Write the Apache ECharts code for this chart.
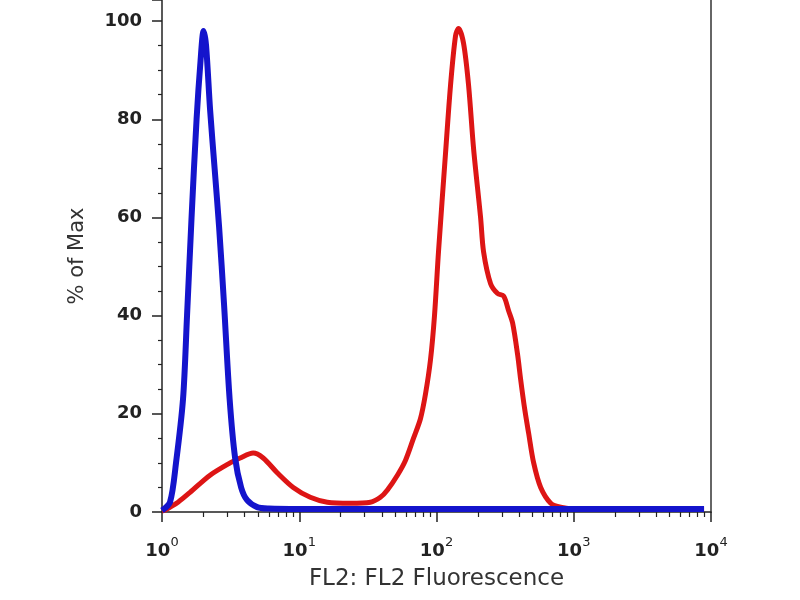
<!DOCTYPE html>
<html>
<head>
<meta charset="utf-8">
<script src="https://cdn.jsdelivr.net/npm/echarts@6/dist/echarts.min.js"></script>
<style>
html,body{margin:0;padding:0;background:#fff;}
#chart{width:800px;height:600px;}
</style>
</head>
<body>
<div id="chart"></div>
<script>
// Blue histogram (control)
const blueX = [1.0, 1.144, 1.265, 1.423, 1.522, 1.642, 1.786, 1.910, 2.009, 2.095, 2.240, 2.417, 2.607, 2.836, 3.110, 3.410, 3.772, 4.173, 4.936, 6.0, 10, 20, 50, 100, 300, 1000, 3000, 8900];
const blueY = [0.3, 2, 10, 23, 40, 60, 80, 92, 98, 95, 82, 70, 58, 42, 23, 11, 5, 2.4, 1, 0.7, 0.6, 0.6, 0.6, 0.6, 0.6, 0.6, 0.6, 0.6];
// Red histogram (stained)
const redX = [1.0, 1.052, 1.309, 1.601, 2.240, 3.135, 3.709, 4.616, 5.461, 6.909, 9.042, 12.03, 16.01, 23.57, 32.98, 39.01, 43.89, 51.91, 59.38, 67.94, 76.4, 83.1, 90.41, 96.7, 103.4, 116.3, 126.6, 137.6, 144.7, 157.4, 171.2, 186.3, 209.5, 220.3, 247.9, 278.8, 308.4, 335.3, 358.6, 390.1, 410.3, 438.9, 469.4, 510.5, 574.3, 679.4, 803.6, 1125, 3000, 8900];
const redY = [0.2, 0.4, 2, 4, 7.5, 10, 11, 12, 11, 8, 5, 3, 2, 1.8, 2, 3, 4.5, 7.5, 10.5, 15, 19, 24, 31, 40, 53, 73, 87, 97, 98.5, 95.5, 87, 74, 60, 53, 46.5, 44.5, 44, 41, 38.5, 32, 27, 21, 16, 10, 5, 1.8, 1, 0.5, 0.5, 0.5];
// Axes
const xMajorTicks = [1, 10, 100, 1000, 10000];
const xMinorTicks = [2,3,4,5,6,7,8,9,20,30,40,50,60,70,80,90,200,300,400,500,600,700,800,900,2000,3000,4000,5000,6000,7000,8000,9000];
const yTicks = [0, 20, 40, 60, 80, 100];
const xTitle = 'FL2: FL2 Fluorescence';
const yTitle = '% of Max';

const zip = (xs, ys) => xs.map((x, i) => [x, ys[i]]);

const chart = echarts.init(document.getElementById('chart'), null, {renderer: 'canvas'});
const axisColor = '#222';
chart.setOption({
  backgroundColor: '#ffffff',
  animation: false,
  grid: {left: 162, right: 89, top: 0, bottom: 88},
  xAxis: [{
    type: 'log', logBase: 10, min: 1, max: 10000,
    name: xTitle, nameLocation: 'middle', nameGap: 56,
    nameTextStyle: {fontFamily: 'DejaVu Sans', fontSize: 23, color: '#333'},
    axisLine: {show: true, lineStyle: {color: axisColor, width: 1.5}},
    axisTick: {show: true, inside: false, length: 10, customValues: xMajorTicks, lineStyle: {color: axisColor, width: 1.5}},
    axisLabel: {
      customValues: xMajorTicks,
      margin: 24,
      formatter: v => '{b|10}{s|' + Math.round(Math.log10(v)) + '}',
      rich: {
        b: {fontFamily: 'DejaVu Sans', fontSize: 18, fontWeight: 'bold', color: '#222', lineHeight: 24, verticalAlign: 'bottom'},
        s: {fontFamily: 'DejaVu Sans', fontSize: 13, color: '#222', lineHeight: 24, verticalAlign: 'top'}
      }
    },
    splitLine: {show: false}
  }, {
    type: 'log', logBase: 10, min: 1, max: 10000, position: 'bottom',
    axisLine: {show: false},
    axisTick: {show: true, inside: false, length: 5, customValues: xMinorTicks, lineStyle: {color: axisColor, width: 1.2}},
    axisLabel: {show: false},
    splitLine: {show: false}
  }],
  yAxis: [{
    type: 'value', min: 0, max: 104.3, interval: 20,
    name: yTitle, nameLocation: 'middle', nameGap: 74,
    nameTextStyle: {fontFamily: 'DejaVu Sans', fontSize: 21, color: '#333'},
    axisLine: {show: true, lineStyle: {color: axisColor, width: 1.5}},
    axisTick: {show: true, inside: false, length: 10, lineStyle: {color: axisColor, width: 1.5}},
    minorTick: {show: true, splitNumber: 4, length: 4, lineStyle: {color: axisColor, width: 1.2}},
    axisLabel: {
      margin: 20,
      fontFamily: 'DejaVu Sans', fontSize: 18, fontWeight: 'bold', color: '#222',
      formatter: v => (yTicks.indexOf(v) >= 0 ? String(v) : '')
    },
    splitLine: {show: false}, minorSplitLine: {show: false}
  }, {
    type: 'value', min: 0, max: 104.3, position: 'right',
    axisLine: {show: true, lineStyle: {color: '#666', width: 2}},
    axisTick: {show: false}, axisLabel: {show: false}, splitLine: {show: false}
  }],
  series: [{
    name: 'Stained', type: 'line', xAxisIndex: 0, yAxisIndex: 0,
    data: zip(redX, redY), showSymbol: false, smooth: 0.3,
    lineStyle: {color: '#dd1515', width: 5}, z: 2
  }, {
    name: 'Control', type: 'line', xAxisIndex: 0, yAxisIndex: 0,
    data: zip(blueX, blueY), showSymbol: false, smooth: 0.3,
    lineStyle: {color: '#1414cc', width: 6}, z: 3
  }]
});
</script>
</body>
</html>
